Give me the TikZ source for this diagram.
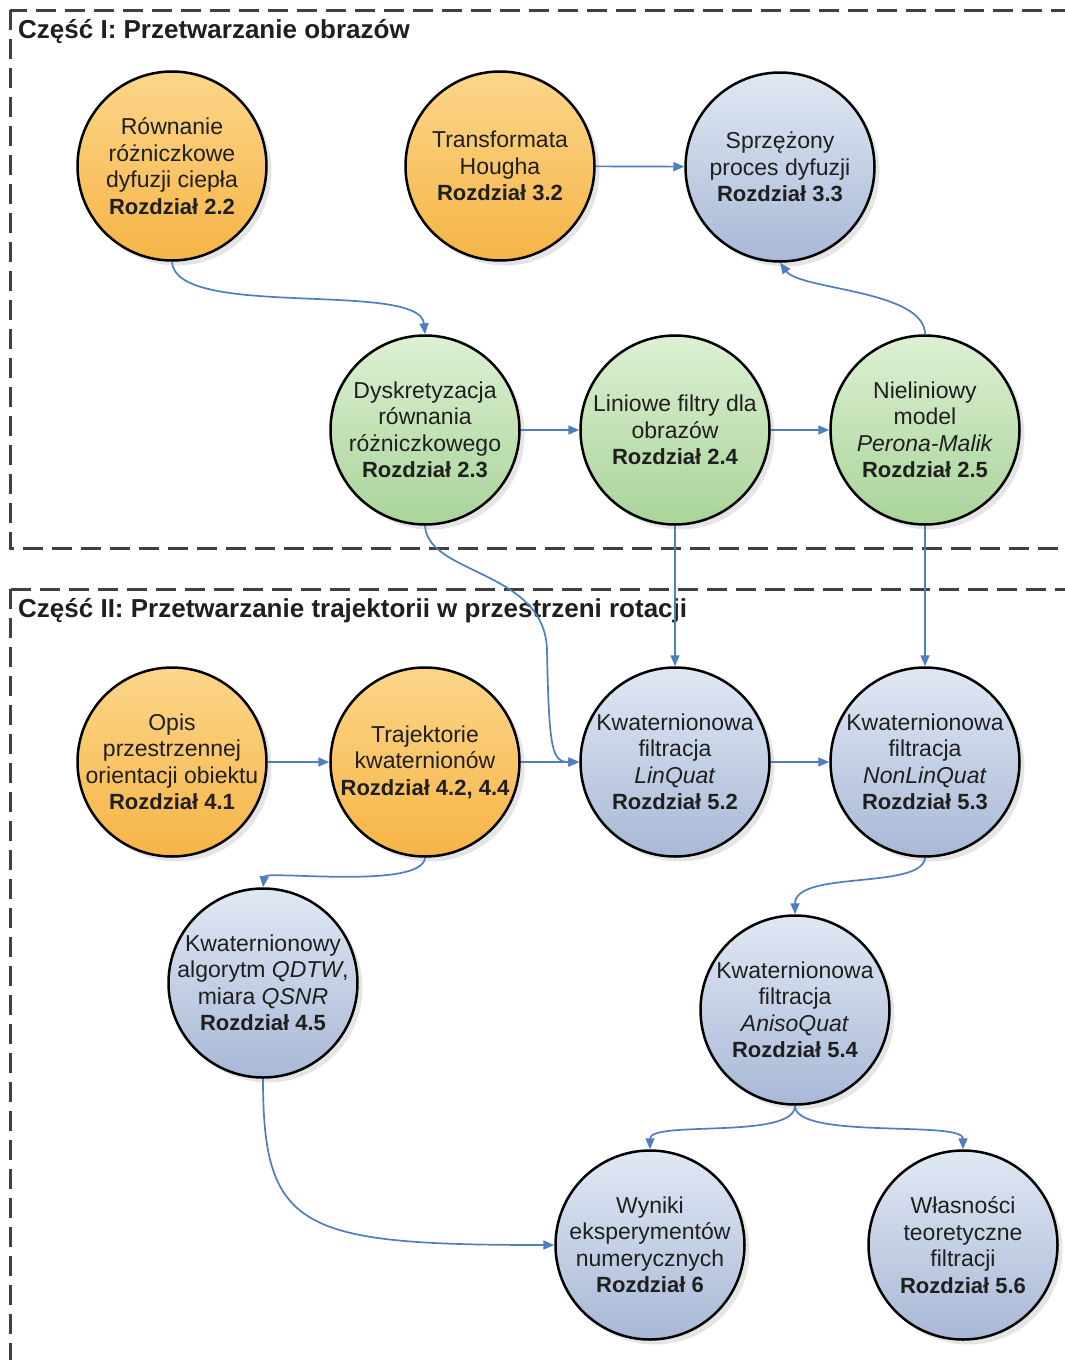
\documentclass[tikz,border=0pt]{standalone}
\usepackage{fontspec}
\setmainfont{Liberation Sans}
\usetikzlibrary{arrows.meta,shadows}

\definecolor{orangetop}{HTML}{FCD68A}
\definecolor{orangebot}{HTML}{F6B446}
\definecolor{greentop}{HTML}{DDF0D3}
\definecolor{greenbot}{HTML}{A9D49A}
\definecolor{bluetop}{HTML}{E1E8F4}
\definecolor{bluebot}{HTML}{A8B8D6}
\definecolor{linkblue}{HTML}{4F7EC0}
\newcommand{\rozdz}[1]{{\fontsize{22}{26.5}\selectfont\bfseries Rozdział #1}}

\begin{document}
\begin{tikzpicture}[x=1pt,y=-1pt,>={Triangle[length=11pt,width=9pt]}]
\tikzstyle{circ}=[circle,draw=black,line width=2.5pt,minimum size=189pt,inner sep=-40pt,align=center,text=black!88,font=\fontsize{23}{26.5}\selectfont,drop shadow={shadow xshift=5pt,shadow yshift=-5pt,fill=black!25,opacity=0.4}]
\tikzstyle{orangecirc}=[circ,top color=orangetop,bottom color=orangebot]
\tikzstyle{greencirc}=[circ,top color=greentop,bottom color=greenbot]
\tikzstyle{bluecirc}=[circ,top color=bluetop,bottom color=bluebot]
\tikzstyle{link}=[->,draw=linkblue,line width=1.7pt]
\tikzstyle{frame}=[draw=black!75,line width=3pt,dash pattern=on 20pt off 9pt]
\tikzstyle{part}=[anchor=west,inner sep=0pt,font=\fontsize{26}{30}\selectfont\bfseries,text=black!88]
\useasboundingbox (0,0) rectangle (1065,1360);
\fill[white] (0,0) rectangle (1065,1360);
% frames
\draw[frame] (10,10) rectangle (1090,548);
\draw[frame] (10,589) rectangle (1090,1390);
\node[part] (p1) at (18,32) {Część I: Przetwarzanie obrazów};
\node[part] (p2) at (18,611) {Część II: Przetwarzanie trajektorii w przestrzeni rotacji};
% part I
\node[orangecirc] (r22) at (172,166) {Równanie\\różniczkowe\\dyfuzji ciepła\\\rozdz{2.2}};
\node[orangecirc] (t32) at (500,166) {Transformata\\Hougha\\\rozdz{3.2}};
\node[bluecirc] (s33) at (780,167) {Sprzężony\\proces dyfuzji\\\rozdz{3.3}};
\node[greencirc] (d23) at (425,430) {Dyskretyzacja\\równania\\różniczkowego\\\rozdz{2.3}};
\node[greencirc] (l24) at (675,430) {Liniowe filtry dla\\obrazów\\\rozdz{2.4}};
\node[greencirc] (n25) at (925,430) {Nieliniowy\\model\\\textit{Perona-Malik}\\\rozdz{2.5}};
% part II
\node[orangecirc] (o41) at (172,762) {Opis\\przestrzennej\\orientacji obiektu\\\rozdz{4.1}};
\node[orangecirc] (t42) at (425,762) {Trajektorie\\kwaternionów\\\rozdz{4.2, 4.4}};
\node[bluecirc] (k52) at (675,762) {Kwaternionowa\\filtracja\\\textit{LinQuat}\\\rozdz{5.2}};
\node[bluecirc] (k53) at (925,762) {Kwaternionowa\\filtracja\\\textit{NonLinQuat}\\\rozdz{5.3}};
\node[bluecirc] (q45) at (263,983) {Kwaternionowy\\algorytm \textit{QDTW},\\miara \textit{QSNR}\\\rozdz{4.5}};
\node[bluecirc] (a54) at (795,1010) {Kwaternionowa\\filtracja\\\textit{AnisoQuat}\\\rozdz{5.4}};
\node[bluecirc] (w6) at (650,1245) {Wyniki\\eksperymentów\\numerycznych\\\rozdz{6}};
\node[bluecirc] (w56) at (963,1245) {Własności\\teoretyczne\\filtracji\\\rozdz{5.6}};
% connectors
\draw[link] (t32) -- (s33);
\draw[link] (r22.south) .. controls (175,320) and (420,280) .. (d23.north);
\draw[link] (n25.north) .. controls (925,290) and (800,290) .. (s33.south);
\draw[link] (d23) -- (l24);
\draw[link] (l24) -- (n25);
\draw[link] (l24) -- (k52);
\draw[link] (n25) -- (k53);
\draw[link] (d23.south) .. controls (428,575) and (545,570) .. (547,650) .. controls (549,750) and (552,762) .. (k52.west);
\draw[link] (o41) -- (t42);
\draw[link] (t42) -- (k52);
\draw[link] (k52) -- (k53);
\draw[link] (t42.south) .. controls (422,890) and (265,870) .. (q45.north);
\draw[link] (k53.south) .. controls (922,890) and (795,870) .. (a54.north);
\draw[link] (q45.south) .. controls (263,1230) and (300,1245) .. (w6.west);
\draw[link] (a54.south) .. controls (795,1140) and (650,1120) .. (w6.north);
\draw[link] (a54.south) .. controls (795,1140) and (963,1120) .. (w56.north);
\end{tikzpicture}
\end{document}
